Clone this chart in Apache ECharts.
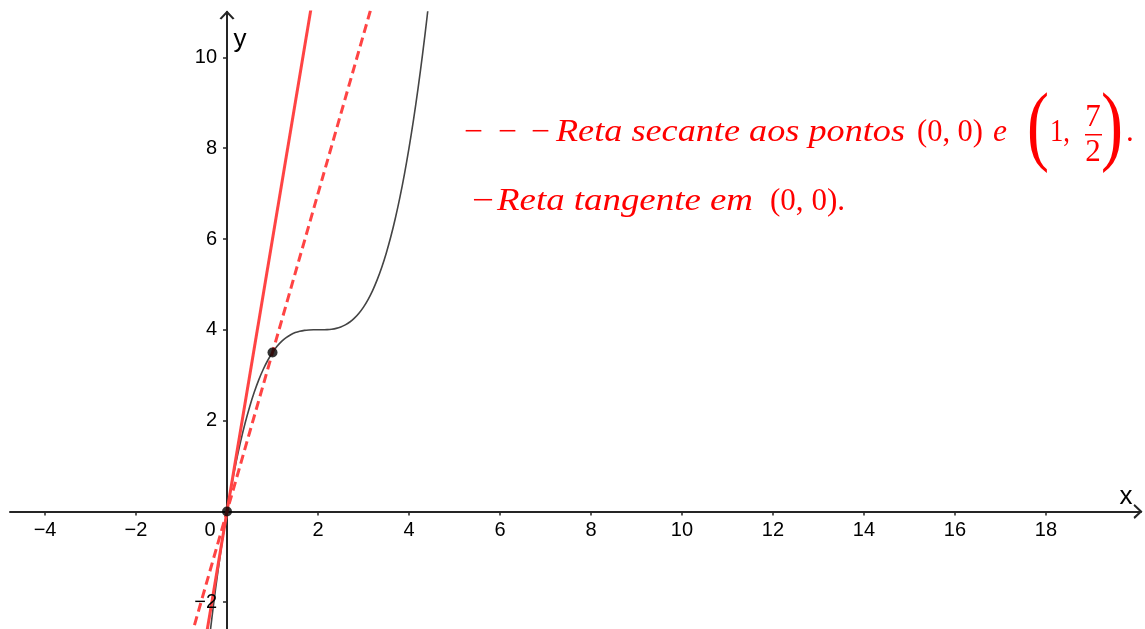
<!DOCTYPE html>
<html><head><meta charset="utf-8">
<script src="https://cdn.jsdelivr.net/npm/echarts@6/dist/echarts.min.js"></script>
<style>html,body{margin:0;padding:0;background:#fff}#c{width:1145px;height:629px}</style>
</head><body><div id="c"></div>
<script>
// ---- data ----
const curveX = [-0.4,-0.3,-0.2,-0.1,0,0.1,0.2,0.3,0.4,0.5,0.6,0.7,0.8,0.9,1.0,1.1,1.2,1.3,1.4,1.5,1.6,1.7,1.8,1.9,2.0,2.1,2.2,2.3,2.4,2.5,2.6,2.7,2.8,2.9,3.0,3.1,3.2,3.3,3.4,3.5,3.6,3.7,3.8,3.9,4.0,4.1,4.2,4.3,4.4,4.5];
const curveY = [-2.912,-2.084,-1.324,-0.631,0,0.571,1.084,1.544,1.952,2.313,2.628,2.902,3.136,3.335,3.5,3.636,3.744,3.829,3.892,3.938,3.968,3.987,3.996,4.0,4.0,4.0,4.004,4.014,4.032,4.063,4.108,4.172,4.256,4.365,4.5,4.666,4.864,5.099,5.372,5.688,6.048,6.457,6.916,7.43,8.0,8.631,9.324,10.084,10.912,11.813];
const tangentX = [-0.5, 2.0];
const tangentY = [-3.0, 12.0];
const secantX = [-0.8, 3.3];
const secantY = [-2.8, 11.55];
const pointX = [0, 1];
const pointY = [0, 3.5];
const xTickValues = [-4,-2,0,2,4,6,8,10,12,14,16,18];
const yTickValues = [-2,2,4,6,8,10];

const zip = (a,b) => a.map((v,i)=>[v,b[i]]);
const minus = v => String(v).replace('-', '\u2212');

const chart = echarts.init(document.getElementById('c'), null, {renderer:'canvas'});
const axisCol = '#252525';
const arrow = 'path://M0,10.5 L10,0 L20,10.5 L17.6,12 L10,4 L2.4,12 Z';
const redLine = '#ff4444';
const labelFont = '"Liberation Sans", Arial, sans-serif';

const option = {
  backgroundColor:'#fff',
  animation:false,
  grid:{left:10, right:4, top:12, bottom:0, outerBoundsMode:'none', containLabel:false},
  xAxis:{
    type:'value', min:-4.77, max:20.09,
    axisLine:{onZero:true, lineStyle:{color:axisCol, width:2}, symbol:['none', arrow], symbolSize:[16,9], symbolOffset:[0,-3]},
    axisTick:{show:true, customValues:xTickValues.filter(v=>v!==0), length:4, lineStyle:{color:axisCol, width:1.5}},
    axisLabel:{show:false},
    splitLine:{show:false}
  },
  yAxis:{
    type:'value', min:-2.59, max:11,
    axisLine:{onZero:true, lineStyle:{color:axisCol, width:2}, symbol:['none', arrow], symbolSize:[16,9], symbolOffset:[0,-3]},
    axisTick:{show:true, customValues:yTickValues, length:4, lineStyle:{color:axisCol, width:1.5}},
    axisLabel:{show:false},
    splitLine:{show:false}
  },
  series:[
    {type:'line', data:zip(curveX, curveY), smooth:0.3, showSymbol:false, symbol:'none', lineStyle:{color:'#444', width:1.6}, z:3},
    {type:'line', data:zip(tangentX, tangentY), showSymbol:false, symbol:'none', lineStyle:{color:redLine, width:3}, z:4},
    {type:'line', data:zip(secantX, secantY), showSymbol:false, symbol:'none', lineStyle:{color:redLine, width:3, type:[9,5]}, z:4},
    {type:'scatter', data:zip(pointX, pointY), symbolSize:10, itemStyle:{color:'#000'}, z:6}
  ]
};
chart.setOption(option);

// ---- tick labels placed through the chart's own scales ----
const graphics = [];
const o = chart.convertToPixel({gridIndex:0}, [0, 0]);
xTickValues.forEach(v => {
  const p = chart.convertToPixel({gridIndex:0}, [v, 0]);
  graphics.push({type:'text', x: v === 0 ? p[0] - 17 : p[0], y: o[1] + 19, z:50,
    style:{text:minus(v), font:'20px ' + labelFont, fill:'#000', align:'center', verticalAlign:'middle'}});
});
yTickValues.forEach(v => {
  const p = chart.convertToPixel({gridIndex:0}, [0, v]);
  graphics.push({type:'text', x: o[0] - 10, y: p[1], z:50,
    style:{text:minus(v), font:'20px ' + labelFont, fill:'#000', align:'right', verticalAlign:'middle'}});
});
graphics.push({type:'text', x:1126, y:497, z:50, style:{text:'x', font:'26px ' + labelFont, fill:'#000', align:'center', verticalAlign:'middle'}});
graphics.push({type:'text', x:240, y:40, z:50, style:{text:'y', font:'26px ' + labelFont, fill:'#000', align:'center', verticalAlign:'middle'}});

// ---- red annotation text ----
const ctx = document.createElement('canvas').getContext('2d');
function measure(font, s){ ctx.font = font; return ctx.measureText(s).width; }
const FS = 31;
const ITAL = 'italic ' + FS + 'px "Liberation Serif", serif';
const ROM = FS + 'px "Liberation Serif", serif';
const BIG = '88px "Liberation Serif", serif';
function seg(text, font, x, baseline, target){
  const w = measure(font, text);
  const s = target ? target / w : 1;
  return {type:'text', x:x, y:baseline - 0.34*FS, scaleX:s, z:100,
    style:{text:text, font:font, fill:'#ff0000', align:'left', verticalAlign:'middle'}};
}
function ctr(text, font, cx, cy, sx){
  return {type:'text', x:cx, y:cy, scaleX:sx||1, z:100,
    style:{text:text, font:font, fill:'#ff0000', align:'center', verticalAlign:'middle'}};
}
const B1 = 143, B2 = 212;
graphics.push(
  seg('\u2212', ROM, 464, B1, 19),
  seg('\u2212', ROM, 498, B1, 19),
  seg('\u2212', ROM, 531, B1, 19),
  seg('Reta secante aos pontos', ITAL, 556, B1, 349),
  seg('(0, 0)', ROM, 917, B1, 66),
  seg('e', ITAL, 993, B1, 14),
  ctr('(', BIG, 1038, 131, 0.75),
  seg('1,', ROM, 1050, B1, 20),
  ctr('7', ROM, 1093, 118),
  ctr('2', ROM, 1093, 153),
  {type:'rect', z:100, shape:{x:1085, y:134, width:17, height:1.5}, style:{fill:'#ff0000'}},
  ctr(')', BIG, 1112, 131, 0.75),
  seg('.', ROM, 1126, B1),
  seg('\u2212', ROM, 472, B2, 22),
  seg('Reta tangente em', ITAL, 497, B2, 256),
  seg('(0, 0).', ROM, 770, B2, 75)
);
chart.setOption({graphic: graphics});
</script></body></html>
